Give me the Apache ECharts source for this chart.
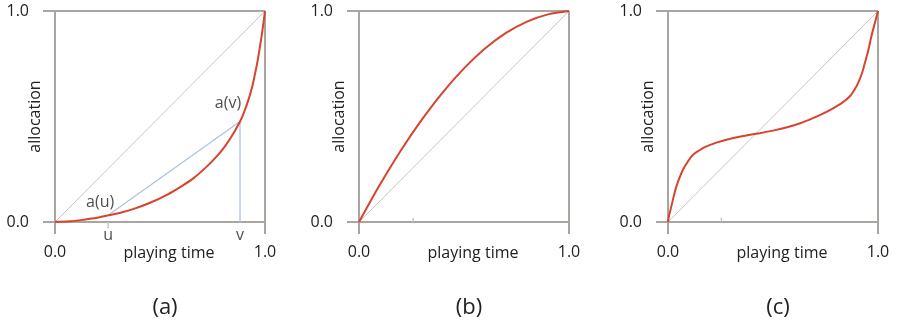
<!DOCTYPE html>
<html>
<head>
<meta charset="utf-8">
<script src="https://cdn.jsdelivr.net/npm/echarts@6/dist/echarts.min.js"></script>
<style>
html,body{margin:0;padding:0;background:#fff;}
#chart{width:897px;height:326px;}
</style>
</head>
<body>
<div id="chart"></div>
<script>
// ---- data ----
var panelLabels = ['(a)', '(b)', '(c)'];
var xTickLabels = ['0.0', '1.0'];
var yTickLabels = ['0.0', '1.0'];
var xName = 'playing time';
var yName = 'allocation';
var diagonal = [[0, 0], [1, 1]];

var curveA = [[0,0],[0.07,0.003],[0.138,0.011],[0.2,0.02],[0.256,0.032],[0.32,0.046],[0.375,0.062],[0.45,0.09],[0.533,0.129],[0.6,0.168],[0.66,0.208],[0.72,0.26],[0.77,0.311],[0.81,0.36],[0.85,0.421],[0.881,0.476],[0.9,0.52],[0.921,0.579],[0.94,0.645],[0.953,0.705],[0.965,0.765],[0.976,0.831],[0.988,0.91],[1,1]];
var curveB = [[0,0],[0.05,0.09],[0.1,0.178],[0.2,0.34],[0.3,0.486],[0.4,0.616],[0.5,0.728],[0.6,0.822],[0.7,0.896],[0.8,0.95],[0.9,0.984],[1,1]];
var curveC = [[0,0],[0.006,0.035],[0.016,0.074],[0.028,0.125],[0.04,0.169],[0.055,0.21],[0.071,0.248],[0.095,0.287],[0.119,0.319],[0.15,0.34],[0.183,0.358],[0.23,0.376],[0.278,0.39],[0.34,0.404],[0.405,0.416],[0.437,0.421],[0.5,0.433],[0.563,0.448],[0.63,0.468],[0.69,0.492],[0.74,0.515],[0.786,0.539],[0.83,0.566],[0.865,0.595],[0.89,0.63],[0.905,0.658],[0.922,0.7],[0.937,0.752],[0.953,0.81],[0.968,0.878],[0.984,0.94],[1,1]];

var uValue = 0.253, vValue = 0.881;
var aU = 0.032, aV = 0.476;
var chordA = [[uValue, aU], [vValue, aV]];
var dropV = [[vValue, 0], [vValue, aV]];
var uTickA = [[uValue, 0], [uValue, -0.03]];
var tickB = [[0.258, 0], [0.258, 0.02]];
var tickC = [[0.254, 0], [0.254, 0.02]];
var annotations = [
  {name: 'a(u)', value: [uValue, aU], offset: [-8, -13]},
  {name: 'a(v)', value: [vValue, aV], offset: [-12, -18]},
  {name: 'u', value: [uValue, 0], offset: [0, 13]},
  {name: 'v', value: [vValue, 0], offset: [0, 13]}
];

// ---- styles ----
var FONT = 'Open Sans';
var boxColor = '#aaa5a1';
var diagColor = '#cbc7c7';
var red = '#d7432f';
var blue = '#aec3df';
var textColor = '#222222';

var lefts = [55, 359, 668];
var grids = lefts.map(function (l) { return {left: l, top: 11, width: 210, height: 211}; });

function xAxisFor(i) {
  return {
    gridIndex: i, type: 'value', min: 0, max: 1, interval: 1,
    axisLine: {show: true, lineStyle: {color: boxColor, width: 2}},
    axisTick: {show: true, length: 12, lineStyle: {color: boxColor, width: 2}},
    splitLine: {show: true, lineStyle: {color: boxColor, width: 2}},
    axisLabel: {margin: 22, color: textColor, fontFamily: FONT, fontSize: 16,
      formatter: function (v) { return xTickLabels[Math.round(v)]; }},
    name: xName, nameLocation: 'middle', nameGap: 23, nameMoveOverlap: false,
    nameTextStyle: {color: textColor, fontFamily: FONT, fontSize: 16, padding: [0, 0, 0, 18]}
  };
}
function yAxisFor(i) {
  return {
    gridIndex: i, type: 'value', min: 0, max: 1, interval: 1,
    axisLine: {show: true, lineStyle: {color: boxColor, width: 2}},
    axisTick: {show: true, length: 12, lineStyle: {color: boxColor, width: 2}},
    splitLine: {show: true, lineStyle: {color: boxColor, width: 2}},
    axisLabel: {margin: 26, color: textColor, fontFamily: FONT, fontSize: 16,
      formatter: function (v) { return yTickLabels[Math.round(v)]; }},
    name: yName, nameLocation: 'middle', nameGap: 12, nameRotate: 90, nameMoveOverlap: false,
    nameTextStyle: {color: textColor, fontFamily: FONT, fontSize: 16, padding: [0, 0, 0, 0]}
  };
}

function lineSeries(i, data, color, width, z) {
  return {type: 'line', xAxisIndex: i, yAxisIndex: i, data: data, showSymbol: false,
    symbol: 'none', clip: false, silent: true, z: z || 2, animation: false,
    lineStyle: {color: color, width: width}};
}

var series = [];
[0, 1, 2].forEach(function (i) { series.push(lineSeries(i, diagonal, diagColor, 1, 2)); });
series.push(lineSeries(0, chordA, blue, 1.3, 3));
series.push(lineSeries(0, dropV, blue, 1.3, 3));
series.push(lineSeries(0, uTickA, blue, 1.3, 3));
series.push(lineSeries(1, tickB, blue, 1.3, 3));
series.push(lineSeries(2, tickC, blue, 1.3, 3));
var smoothRed = function (i, d) { var s = lineSeries(i, d, red, 2, 5); s.smooth = 0.3; return s; };
series.push(smoothRed(0, curveA));
series.push(smoothRed(1, curveB));
series.push(smoothRed(2, curveC));
series.push({
  type: 'scatter', xAxisIndex: 0, yAxisIndex: 0, symbolSize: 0, silent: true, z: 6,
  animation: false, clip: false,
  data: annotations.map(function (a) {
    return {name: a.name, value: a.value,
      label: {show: true, position: 'inside', offset: a.offset, formatter: a.name,
        color: textColor, fontFamily: FONT, fontSize: 16}};
  })
});

var chart = echarts.init(document.getElementById('chart'), null, {renderer: 'canvas'});
chart.setOption({
  animation: false,
  backgroundColor: '#ffffff',
  title: panelLabels.map(function (t, i) {
    return {text: t, left: lefts[i] + 105, top: 292, textAlign: 'center',
      textStyle: {color: textColor, fontFamily: FONT, fontSize: 22, fontWeight: 'normal'}};
  }),
  grid: grids,
  xAxis: [0, 1, 2].map(xAxisFor),
  yAxis: [0, 1, 2].map(yAxisFor),
  series: series
});
</script>
</body>
</html>
